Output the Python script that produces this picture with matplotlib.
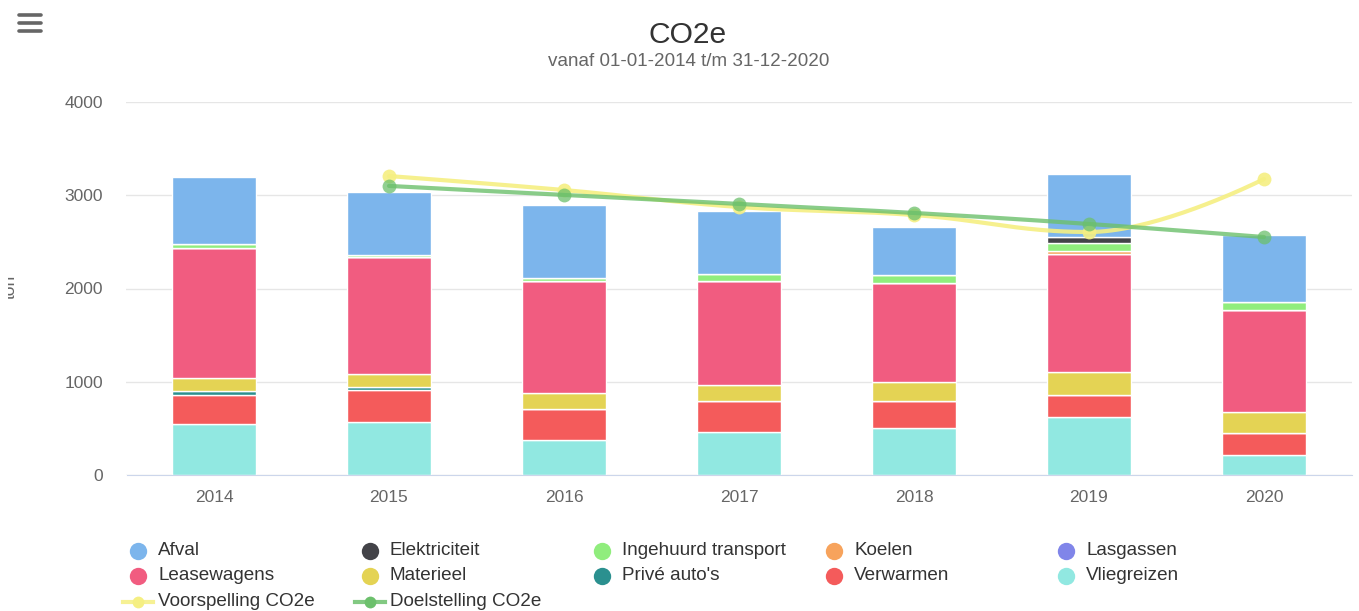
import numpy as np
import matplotlib
matplotlib.use('Agg')
import matplotlib.pyplot as plt
from matplotlib.lines import Line2D
from matplotlib.transforms import Bbox

plt.rcParams['font.family'] = ['Liberation Sans', 'DejaVu Sans']

years = ['2014', '2015', '2016', '2017', '2018', '2019', '2020']

# stacked series, Highcharts order (first = top of the stack)
afval          = [717, 676, 790, 669, 515, 669, 719]
elektriciteit  = [0, 0, 0, 0, 0, 68, 0]
ingehuurd      = [45, 30, 32, 82, 83, 83, 83]
koelen         = [0, 0, 0, 0, 0, 35, 0]
lasgassen      = [0, 0, 0, 0, 0, 0, 0]
leasewagens    = [1389, 1254, 1201, 1115, 1065, 1265, 1097]
materieel      = [140, 140, 172, 172, 203, 244, 225]
prive_autos    = [43, 29, 0, 0, 0, 0, 0]
verwarmen      = [311, 346, 329, 329, 293, 239, 236]
vliegreizen    = [547, 565, 375, 461, 501, 622, 211]

# line series (start in 2015)
line_years   = ['2015', '2016', '2017', '2018', '2019', '2020']
voorspelling = [3206, 3056, 2874, 2788, 2606, 3174]
doelstelling = [3100, 3003, 2906, 2810, 2692, 2552]

series = [
    ('Afval', afval, '#7cb5ec'),
    ('Elektriciteit', elektriciteit, '#434348'),
    ('Ingehuurd transport', ingehuurd, '#90ed7d'),
    ('Koelen', koelen, '#f7a35c'),
    ('Lasgassen', lasgassen, '#8085e9'),
    ('Leasewagens', leasewagens, '#f15c80'),
    ('Materieel', materieel, '#e4d354'),
    ("Privé auto's", prive_autos, '#2b908f'),
    ('Verwarmen', verwarmen, '#f45b5b'),
    ('Vliegreizen', vliegreizen, '#91e8e1'),
]
yellow = '#f5ef82'
green = '#6cc06c'


def spline(xs, ys, n=40):
    # Highcharts-like spline (smoothing 1.5) as cubic Bezier segments
    xs = np.asarray(xs, float)
    ys = np.asarray(ys, float)
    k = len(xs)
    lc = [None] * k
    rc = [None] * k
    for i in range(k):
        if i == 0 or i == k - 1:
            lc[i] = rc[i] = (xs[i], ys[i])
            continue
        lx = (1.5 * xs[i] + xs[i - 1]) / 2.5
        ly = (1.5 * ys[i] + ys[i - 1]) / 2.5
        rx = (1.5 * xs[i] + xs[i + 1]) / 2.5
        ry = (1.5 * ys[i] + ys[i + 1]) / 2.5
        corr = (ry - ly) * (rx - xs[i]) / (rx - lx) + ys[i] - ry
        ly += corr
        ry += corr
        if ly > ys[i - 1] and ly > ys[i]:
            ly = max(ys[i - 1], ys[i]); ry = 2 * ys[i] - ly
        elif ly < ys[i - 1] and ly < ys[i]:
            ly = min(ys[i - 1], ys[i]); ry = 2 * ys[i] - ly
        if ry > ys[i + 1] and ry > ys[i]:
            ry = max(ys[i + 1], ys[i]); ly = 2 * ys[i] - ry
        elif ry < ys[i + 1] and ry < ys[i]:
            ry = min(ys[i + 1], ys[i]); ly = 2 * ys[i] - ry
        lc[i] = (lx, ly)
        rc[i] = (rx, ry)
    t = np.linspace(0, 1, n)[:, None]
    out = []
    for i in range(1, k):
        p0 = np.array([xs[i - 1], ys[i - 1]])
        p1 = np.array(rc[i - 1])
        p2 = np.array(lc[i])
        p3 = np.array([xs[i], ys[i]])
        seg = ((1 - t) ** 3) * p0 + 3 * ((1 - t) ** 2) * t * p1 + 3 * (1 - t) * t ** 2 * p2 + t ** 3 * p3
        out.append(seg if i == 1 else seg[1:])
    out = np.vstack(out)
    return out[:, 0], out[:, 1]


W, H = 1359, 611
fig = plt.figure(figsize=(W / 100, H / 100), dpi=100)
ax = fig.add_axes([126.5 / W, (H - 475) / H, 1225 / W, 373 / H])

x = np.arange(len(years))
bottom = np.zeros(len(years))
for name, vals, col in reversed(series):
    v = np.array(vals, float)
    ax.bar(x, v, width=0.48, bottom=bottom, color=col, edgecolor='white',
           linewidth=1, zorder=2)
    bottom += v

lx = np.array([years.index(y) for y in line_years], float)
sx, sy = spline(lx, voorspelling)
ax.plot(sx, sy, color=yellow, lw=3, alpha=0.9, zorder=3, solid_capstyle='round')
ax.plot(lx, voorspelling, 'o', color=yellow, ms=10, alpha=0.9, zorder=3, mec='none')
sx, sy = spline(lx, doelstelling)
ax.plot(sx, sy, color=green, lw=3, alpha=0.8, zorder=4, solid_capstyle='round')
ax.plot(lx, doelstelling, 'o', color=green, ms=10, alpha=0.75, zorder=4, mec='none')

ax.set_xlim(-0.5, len(years) - 0.5)
ax.set_ylim(0, 4000)
ax.set_yticks([0, 1000, 2000, 3000, 4000])
ax.set_xticks(x)
ax.set_xticklabels(years)
ax.grid(axis='y', color='#e6e6e6', lw=1, zorder=0)
for s in ['top', 'right', 'left']:
    ax.spines[s].set_visible(False)
ax.spines['bottom'].set_color('#ccd6eb')
ax.tick_params(axis='both', length=0, labelsize=12.5, colors='#666666')
ax.tick_params(axis='y', pad=17)
ax.tick_params(axis='x', pad=11)

fig.text(688 / W, 1 - 35 / H, 'CO2e', ha='center', va='center', fontsize=21.6, color='#333333')
fig.text(689 / W, 1 - 61 / H, 'vanaf 01-01-2014 t/m 31-12-2020', ha='center', va='center',
         fontsize=13.6, color='#666666')

ylab = fig.text(10 / W, 1 - 287 / H, 'ton', rotation=90, ha='center', va='center',
                fontsize=12.5, color='#666666')
ylab.set_clip_box(Bbox.from_extents(8, 0, W, H))

# hamburger menu
for yy in [15, 23, 31]:
    fig.add_artist(Line2D([19 / W, 41 / W], [1 - yy / H, 1 - yy / H], color='#666666',
                          lw=2.6, solid_capstyle='round', transform=fig.transFigure))

# legend (row-major, fixed item width)
items = [(n, c, 'bar') for n, _, c in series]
items += [('Voorspelling CO2e', yellow, 'line'), ('Doelstelling CO2e', green, 'line')]
for i, (name, col, kind) in enumerate(items):
    r, c = divmod(i, 5)
    mx = (138 + 232 * c) / W
    my = 1 - (550.5 + 25.5 * r) / H
    if kind == 'line':
        fig.add_artist(Line2D([mx - 15 / W, mx + 15 / W], [my, my], color=col, lw=3,
                              alpha=0.85, transform=fig.transFigure))
        fig.add_artist(Line2D([mx], [my], marker='o', ms=8.5, color=col, mec='none',
                              transform=fig.transFigure))
    else:
        fig.add_artist(Line2D([mx], [my], marker='o', ms=12.5, color=col, mec='none',
                              transform=fig.transFigure))
    fig.text(mx + 20 / W, my, name, ha='left', va='center', fontsize=13.6, color='#333333')

fig.savefig('out.png', dpi=100)
